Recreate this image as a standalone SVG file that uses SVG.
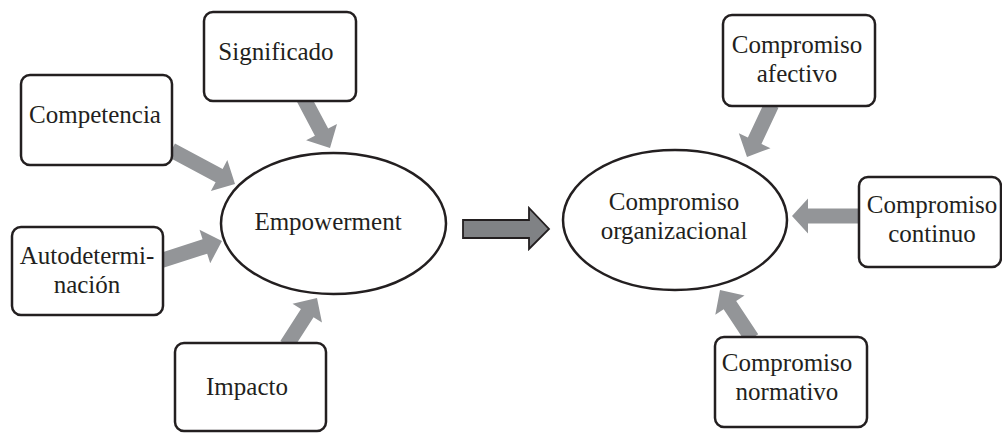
<svg xmlns="http://www.w3.org/2000/svg" width="1002" height="433" viewBox="0 0 1002 433">
<style>
.box{fill:#fff;stroke:#231f20;stroke-width:2.5}
.ell{fill:#fff;stroke:#231f20;stroke-width:2.5}
.arr{fill:#939598;stroke:none}
.big{fill:#808285;stroke:#231f20;stroke-width:1.8}
text{font-family:"Liberation Serif","Times New Roman",serif;font-size:25px;fill:#231f20;text-anchor:middle}
</style>
<rect width="1002" height="433" fill="#fff"/>
<g id="connectors">
<polygon class="arr" points="-56,-7.5 -18,-7.5 -18,-17.5 0,0 -18,17.5 -18,7.5 -56,7.5" transform="translate(330,148) rotate(62)"/>
<polygon class="arr" points="-72,-7.5 -18,-7.5 -18,-17.5 0,0 -18,17.5 -18,7.5 -72,7.5" transform="translate(235,184) rotate(28)"/>
<polygon class="arr" points="-64,-7.5 -18,-7.5 -18,-17.5 0,0 -18,17.5 -18,7.5 -64,7.5" transform="translate(222,241) rotate(-17.8)"/>
<polygon class="arr" points="-56,-7.5 -18,-7.5 -18,-17.5 0,0 -18,17.5 -18,7.5 -56,7.5" transform="translate(317,298) rotate(-57.2)"/>
<polygon class="arr" points="-58,-7.5 -18,-7.5 -18,-17.5 0,0 -18,17.5 -18,7.5 -58,7.5" transform="translate(747,157) rotate(115.2)"/>
<polygon class="arr" points="-69,-7.5 -16,-7.5 -16,-17.5 0,0 -16,17.5 -16,7.5 -69,7.5" transform="translate(792,216) rotate(180)"/>
<polygon class="arr" points="-58,-7.5 -18,-7.5 -18,-17.5 0,0 -18,17.5 -18,7.5 -58,7.5" transform="translate(720,290) rotate(-123.4)"/>
<polygon class="big" points="463,220 529,220 529,208 549,229 529,249 529,238 463,238"/>
</g>
<g id="significado"><rect class="box" x="204" y="12" width="152" height="89" rx="9"/><text x="276" y="60">Significado</text></g>
<g id="competencia"><rect class="box" x="21" y="75" width="151" height="90" rx="9"/><text x="95" y="123">Competencia</text></g>
<g id="autodeterminacion"><rect class="box" x="12" y="227" width="151" height="88" rx="9"/><text x="87" y="264">Autodetermi-</text><text x="87" y="293">nación</text></g>
<g id="impacto"><rect class="box" x="175" y="343" width="151" height="88" rx="9"/><text x="247" y="395">Impacto</text></g>
<g id="empowerment"><ellipse class="ell" cx="333.5" cy="223.5" rx="112.5" ry="70.5"/><text x="328" y="230">Empowerment</text></g>
<g id="compromiso-organizacional"><ellipse class="ell" cx="675" cy="220" rx="112" ry="70"/><text x="674" y="210">Compromiso</text><text x="674" y="239">organizacional</text></g>
<g id="compromiso-afectivo"><rect class="box" x="723" y="15" width="152" height="91" rx="9"/><text x="797" y="53">Compromiso</text><text x="797" y="82">afectivo</text></g>
<g id="compromiso-continuo"><rect class="box" x="859" y="177" width="142" height="90" rx="9"/><text x="932" y="213">Compromiso</text><text x="932" y="242">continuo</text></g>
<g id="compromiso-normativo"><rect class="box" x="715" y="337" width="152" height="90" rx="9"/><text x="787" y="371">Compromiso</text><text x="787" y="400">normativo</text></g>
</svg>
